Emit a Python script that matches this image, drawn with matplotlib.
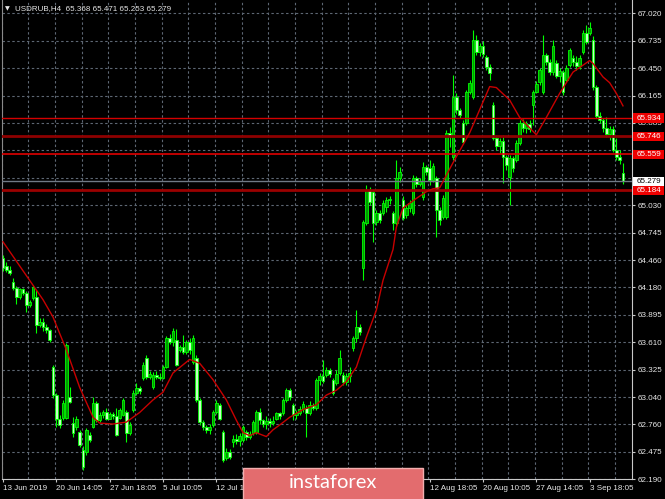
import numpy as np
import matplotlib
matplotlib.use("Agg")
import matplotlib.pyplot as plt
from matplotlib.patches import Rectangle
from matplotlib.transforms import blended_transform_factory

# USDRUB H4 candles
opens = [64.48, 64.40, 64.36, 64.23, 64.17, 64.08, 64.16, 64.12, 63.99, 64.07,
         64.08, 63.79, 63.82, 63.77, 63.74, 63.35, 63.06, 62.81, 62.82, 62.82,
         63.04, 62.77, 62.73, 62.68, 62.49, 62.47, 62.65, 62.73, 62.98, 62.80,
         62.85, 62.88, 62.81, 62.86, 62.84, 62.82, 62.85, 62.88, 62.67, 62.91,
         63.08, 63.13, 63.24, 63.44, 63.25, 63.14, 63.27, 63.25, 63.24, 63.35,
         63.65, 63.61, 63.63, 63.53, 63.56, 63.51, 63.61, 63.40, 63.44, 63.01,
         62.78, 62.73, 62.70, 62.75, 62.88, 62.96, 62.68, 62.41, 62.47, 62.57,
         62.61, 62.58, 62.59, 62.68, 62.63, 62.67, 62.68, 62.88, 62.80, 62.76,
         62.79, 62.77, 62.81, 62.87, 62.87, 63.01, 63.11, 62.96, 62.85, 62.87,
         62.92, 62.93, 62.87, 62.96, 62.93, 63.22, 63.26, 63.27, 63.32, 63.22,
         63.19, 63.29, 63.27, 63.20, 63.26, 63.55, 63.65, 63.77, 64.38, 64.85,
         65.19, 65.17, 64.86, 64.95, 64.95, 65.01, 65.08, 64.95, 64.84, 65.31,
         65.08, 64.93, 65.00, 64.95, 65.31, 65.25, 65.11, 65.43, 65.42, 65.29,
         65.31, 64.98, 64.91, 64.91, 65.78, 65.53, 66.15, 66.02, 65.88, 65.88,
         66.20, 66.15, 66.74, 66.62, 66.68, 66.57, 66.46, 66.07, 65.73, 65.64,
         65.70, 65.53, 65.32, 65.52, 65.50, 65.68, 65.88, 65.83, 65.87, 66.07,
         66.20, 66.31, 66.20, 66.59, 66.52, 66.41, 66.50, 66.37, 66.41, 66.33,
         66.48, 66.56, 66.52, 66.47, 66.62, 66.82, 66.82, 66.74, 66.26, 65.95,
         65.91, 65.83, 65.77, 65.82, 65.60, 65.53, 65.368]
highs = [64.51, 64.44, 64.40, 64.27, 64.19, 64.17, 64.17, 64.14, 64.05, 64.20,
         64.15, 63.86, 63.86, 63.80, 63.75, 63.37, 63.08, 62.85, 63.01, 63.60,
         63.14, 62.83, 62.84, 62.70, 62.53, 62.72, 62.68, 63.04, 63.00, 62.88,
         62.91, 62.93, 62.89, 62.89, 62.93, 62.93, 63.03, 62.91, 62.78, 63.11,
         63.19, 63.15, 63.40, 63.48, 63.31, 63.30, 63.31, 63.29, 63.37, 63.67,
         63.69, 63.76, 63.75, 63.58, 63.68, 63.63, 63.65, 63.68, 63.48, 63.03,
         62.80, 62.75, 62.76, 62.91, 63.01, 62.98, 62.70, 62.51, 62.50, 62.65,
         62.66, 62.67, 62.75, 62.70, 62.69, 62.80, 62.91, 62.93, 62.81, 62.84,
         62.82, 62.84, 62.89, 62.89, 63.03, 63.13, 63.13, 62.98, 62.91, 62.95,
         63.00, 62.96, 63.00, 62.98, 63.24, 63.29, 63.42, 63.35, 63.34, 63.24,
         63.32, 63.53, 63.30, 63.29, 63.35, 63.67, 63.94, 63.80, 64.88, 65.24,
         65.22, 65.19, 64.98, 64.98, 65.08, 65.11, 65.13, 64.97, 65.50, 65.43,
         65.12, 65.03, 65.08, 65.34, 65.33, 65.31, 65.48, 65.45, 65.50, 65.47,
         65.33, 65.01, 65.14, 65.81, 65.84, 66.38, 66.19, 66.04, 65.91, 66.22,
         66.33, 66.85, 66.80, 66.71, 66.73, 66.59, 66.49, 66.10, 65.76, 65.73,
         65.76, 65.55, 65.55, 65.54, 65.71, 65.91, 65.92, 65.90, 65.91, 66.22,
         66.32, 66.45, 66.80, 66.61, 66.55, 66.74, 66.54, 66.45, 66.43, 66.48,
         66.66, 66.59, 66.58, 66.59, 66.85, 66.90, 66.93, 66.78, 66.28, 66.00,
         65.93, 65.94, 65.85, 65.85, 65.73, 65.60, 65.471]
lows = [64.35, 64.34, 64.31, 64.15, 64.01, 64.06, 64.10, 63.92, 63.97, 64.05,
        63.70, 63.77, 63.73, 63.70, 63.61, 63.03, 62.73, 62.72, 62.80, 62.81,
        62.98, 62.63, 62.70, 62.52, 62.28, 62.44, 62.57, 62.72, 62.78, 62.78,
        62.82, 62.80, 62.81, 62.81, 62.64, 62.81, 62.84, 62.57, 62.65, 62.88,
        63.06, 63.07, 63.22, 63.23, 63.23, 63.12, 63.23, 63.22, 63.23, 63.34,
        63.59, 63.57, 63.36, 63.51, 63.49, 63.49, 63.49, 63.38, 62.99, 62.75,
        62.70, 62.67, 62.66, 62.73, 62.86, 62.80, 62.37, 62.39, 62.40, 62.52,
        62.55, 62.53, 62.57, 62.59, 62.60, 62.65, 62.66, 62.76, 62.73, 62.71,
        62.73, 62.75, 62.80, 62.81, 62.85, 62.99, 63.01, 62.80, 62.81, 62.85,
        62.88, 62.63, 62.85, 62.91, 62.91, 63.17, 63.19, 63.25, 63.25, 63.06,
        63.16, 63.27, 63.16, 63.17, 63.20, 63.52, 63.61, 63.68, 64.25, 64.82,
        65.03, 64.65, 64.82, 64.84, 64.93, 64.96, 65.04, 64.77, 64.82, 65.27,
        64.88, 64.90, 64.96, 64.93, 65.22, 65.23, 65.08, 65.34, 65.24, 65.27,
        64.70, 64.82, 64.89, 64.89, 65.63, 65.50, 65.98, 65.93, 65.66, 65.86,
        66.18, 66.13, 66.59, 66.58, 66.57, 66.43, 66.33, 65.71, 65.60, 65.57,
        65.26, 65.40, 65.03, 65.37, 65.48, 65.65, 65.79, 65.78, 65.79, 65.86,
        66.19, 66.28, 66.18, 66.48, 66.38, 66.38, 66.35, 66.31, 66.17, 66.31,
        66.46, 66.47, 66.43, 66.44, 66.60, 66.70, 66.80, 66.22, 65.93, 65.88,
        65.79, 65.74, 65.71, 65.58, 65.50, 65.46, 65.253]
closes = [64.38, 64.36, 64.33, 64.17, 64.08, 64.16, 64.12, 63.99, 64.03, 64.18,
          63.79, 63.82, 63.77, 63.74, 63.63, 63.06, 62.81, 62.75, 62.98, 63.58,
          62.99, 62.67, 62.81, 62.54, 62.31, 62.70, 62.59, 62.98, 62.80, 62.85,
          62.88, 62.81, 62.86, 62.84, 62.65, 62.91, 63.01, 62.67, 62.75, 63.08,
          63.13, 63.10, 63.37, 63.25, 63.28, 63.27, 63.25, 63.24, 63.35, 63.65,
          63.61, 63.72, 63.37, 63.56, 63.51, 63.61, 63.53, 63.65, 63.01, 62.78,
          62.73, 62.70, 62.73, 62.88, 62.98, 62.81, 62.39, 62.47, 62.42, 62.61,
          62.58, 62.64, 62.73, 62.63, 62.66, 62.78, 62.88, 62.80, 62.76, 62.79,
          62.77, 62.79, 62.87, 62.84, 63.01, 63.11, 63.04, 62.85, 62.87, 62.92,
          62.97, 62.87, 62.96, 62.93, 63.22, 63.26, 63.21, 63.32, 63.28, 63.08,
          63.28, 63.45, 63.20, 63.26, 63.29, 63.65, 63.77, 63.71, 64.86, 65.19,
          65.06, 64.84, 64.95, 64.88, 65.05, 65.08, 65.09, 64.84, 65.31, 65.37,
          64.90, 65.00, 65.05, 65.31, 65.25, 65.28, 65.43, 65.37, 65.29, 65.44,
          64.98, 64.88, 65.10, 65.78, 65.75, 66.15, 66.02, 65.97, 65.69, 66.20,
          66.30, 66.74, 66.62, 66.68, 66.60, 66.46, 66.40, 65.73, 65.64, 65.70,
          65.53, 65.45, 65.52, 65.42, 65.68, 65.88, 65.83, 65.87, 65.82, 66.20,
          66.29, 66.43, 66.59, 66.52, 66.41, 66.68, 66.37, 66.42, 66.20, 66.45,
          66.64, 66.52, 66.47, 66.56, 66.82, 66.72, 66.87, 66.26, 65.95, 65.91,
          65.83, 65.77, 65.82, 65.60, 65.53, 65.50, 65.279]

# moving average (red), sampled at candle numbers
ma_idx = [0, 8, 12, 15, 19, 23, 27, 29, 33, 37, 41, 45, 48, 51, 56, 59, 63, 67,
          70, 72, 74, 76, 79, 81, 83, 86, 90, 94, 97, 100, 103, 106, 109, 112,
          114, 117, 118, 120, 122, 124, 127, 129, 131, 135, 140, 143, 146, 148,
          152, 155, 160, 163, 167, 171, 176, 177, 180, 182, 184, 186]
ma_val = [64.65, 64.25, 64.05, 63.87, 63.53, 63.14, 62.83, 62.77, 62.76, 62.78,
          62.88, 63.01, 63.09, 63.29, 63.43, 63.39, 63.22, 63.01, 62.80, 62.67,
          62.64, 62.67, 62.63, 62.70, 62.75, 62.83, 62.91, 62.96, 63.06, 63.11,
          63.20, 63.35, 63.66, 63.94, 64.25, 64.57, 64.80, 65.00, 65.05, 65.10,
          65.17, 65.20, 65.21, 65.47, 65.78, 66.02, 66.26, 66.25, 66.12, 65.94,
          65.76, 65.94, 66.19, 66.41, 66.53, 66.50, 66.36, 66.30, 66.19, 66.06]

levels = [65.934, 65.746, 65.559, 65.184]
level_colors = ['#d40000', '#8e0000', '#e00000', '#9a0000']
level_widths = [1.0, 2.0, 1.2, 2.0]
last_price = 65.279

# grid levels; the labels at 65.600 and 65.315 sit under the price boxes
price_ticks = [67.020, 66.735, 66.450, 66.165, 65.885, 65.600, 65.315, 65.030,
               64.745, 64.460, 64.180, 63.895, 63.610, 63.325, 63.040, 62.760,
               62.475, 62.190]
price_labels = ['67.020', '66.735', '66.450', '66.165', '65.885', '', '', '65.030',
                '64.745', '64.460', '64.180', '63.895', '63.610', '63.325', '63.040',
                '62.760', '62.475', '62.190']
date_pos = [0, 16, 32, 48, 64, 128, 144, 160, 176]
date_labels = ['13 Jun 2019', '20 Jun 14:05', '27 Jun 18:05', '5 Jul 10:05',
               '12 Jul 14:05', '12 Aug 18:05', '20 Aug 10:05', '27 Aug 14:05',
               '3 Sep 18:05']

plt.rcParams['font.family'] = ['Liberation Sans', 'DejaVu Sans']

o = np.array(opens); h = np.array(highs); l = np.array(lows); c = np.array(closes)
x = np.arange(len(c))

fig = plt.figure(figsize=(6.65, 4.99), dpi=100, facecolor='black')
ax = fig.add_axes([2/665, 20/499, 630/665, 479/499], facecolor='black')
ax.set_xlim(-0.3, 188.7)
ax.set_ylim(62.190, 67.158)

# grid
gridc = '#5d6773'
for p in price_ticks:
    ax.axhline(p, color=gridc, lw=0.8, dashes=(2.2, 2.2), zorder=0.5)
for g in range(0, 188, 8):
    ax.axvline(g - 0.4, color=gridc, lw=0.8, dashes=(2.2, 2.2), zorder=0.5)

# candles
up = c >= o
ax.vlines(x, l, h, color='#00ff00', lw=0.8, zorder=2)
bot = np.minimum(o, c)
hgt = np.maximum(np.abs(c - o), 0.008)
ax.bar(x[up], hgt[up], bottom=bot[up], width=0.72, color='#009a00',
       edgecolor='#00ff00', linewidth=0.6, zorder=2.5)
ax.bar(x[~up], hgt[~up], bottom=bot[~up], width=0.72, color='#c4ffc4',
       edgecolor='#00ff00', linewidth=0.6, zorder=2.5)

# levels and moving average
for lv, col, lw in zip(levels, level_colors, level_widths):
    ax.axhline(lv, color=col, lw=lw, zorder=3)
ax.axhline(last_price, color='#707a86', lw=1.0, zorder=3)
ax.plot(ma_idx, ma_val, color='#c80000', lw=1.0, zorder=4)

# axes look
ax.spines['top'].set_visible(False)
ax.spines['left'].set_color('#8a8a8a')
ax.spines['right'].set_color('#c8c8c8')
ax.spines['bottom'].set_color('#c8c8c8')
ax.yaxis.tick_right()
ax.set_yticks(price_ticks)
ax.set_yticklabels(price_labels)
ax.set_xticks(date_pos)
ax.set_xticklabels(date_labels)
for lbl in ax.get_xticklabels():
    lbl.set_ha('left')
ax.tick_params(axis='y', colors='#c8c8c8', labelcolor='#e8e8e8', labelsize=5.8,
               length=2.5, width=0.8, pad=1.5)
ax.tick_params(axis='x', colors='#c8c8c8', labelcolor='#e8e8e8', labelsize=5.8,
               length=2.5, width=0.8, pad=1.5)

# price boxes on the right
tr = blended_transform_factory(ax.transAxes, ax.transData)
box_h = 0.095
for lv in levels:
    ax.add_patch(Rectangle((1.001, lv - box_h / 2), 31 / 630, box_h, transform=tr,
                           facecolor='#ee0000', edgecolor='none', clip_on=False, zorder=6))
    ax.text(1.0 + 5 / 630, lv, '%.3f' % lv, transform=tr, ha='left', va='center',
            fontsize=5.8, color='white', clip_on=False, zorder=7)
ax.add_patch(Rectangle((1.001, last_price - box_h / 2), 31 / 630, box_h, transform=tr,
                       facecolor='white', edgecolor='none', clip_on=False, zorder=6))
ax.text(1.0 + 5 / 630, last_price, '%.3f' % last_price, transform=tr, ha='left',
        va='center', fontsize=5.8, color='black', clip_on=False, zorder=7)

# title
fig.text(5 / 665, 1 - 9 / 499, '\u25bc', fontsize=4.5, color='#e8e8e8', va='center',
         family='DejaVu Sans')
fig.text(15 / 665, 1 - 9 / 499, 'USDRUB,H4  65.368 65.471 65.253 65.279',
         fontsize=5.8, color='#e8e8e8', va='center')

# watermark
fig.patches.append(Rectangle((243 / 665, -0.01), 180 / 665, 31.5 / 499 + 0.01,
                             transform=fig.transFigure, facecolor='#e36c6e',
                             edgecolor='#f2aeae', lw=1.0, zorder=10))
fig.text(333 / 665, 16 / 499, 'instaforex', fontsize=14.5, color='white',
         ha='center', va='center', family=['Lato', 'DejaVu Sans'], zorder=11)

fig.savefig('out.png', dpi=100, facecolor='black')
